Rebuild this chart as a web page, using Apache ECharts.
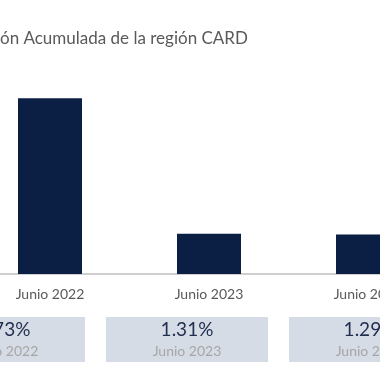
<!DOCTYPE html>
<html><head><meta charset="utf-8">
<script src="https://cdn.jsdelivr.net/npm/echarts@6/dist/echarts.min.js"></script>
<style>html,body{margin:0;padding:0;background:#fff}#c{width:380px;height:380px}</style>
</head><body><div id="c"></div>
<script>
const titleText = 'ón Acumulada de la región CARD';
const categories = ['Junio 2022', 'Junio 2023', 'Junio 2024'];
const values = [5.73, 1.31, 1.29];
const FONT = 'Lato';

const chart = echarts.init(document.getElementById('c'));
chart.setOption({
  animation: false,
  title: {
    text: titleText, left: 0, top: 30, padding: 0,
    textStyle: { fontFamily: FONT, fontSize: 17, fontWeight: 'normal', color: '#595959' }
  },
  grid: [
    { left: -29.5, width: 477, top: 90, height: 184, outerBoundsMode: 'none', containLabel: false },
    { left: -87.5, width: 549, top: 317, height: 45, outerBoundsMode: 'none', containLabel: false }
  ],
  xAxis: [
    { type: 'category', gridIndex: 0, data: categories,
      axisLine: { lineStyle: { color: '#bfbfbf', width: 1.5 } },
      axisTick: { show: false },
      axisLabel: { margin: 13, fontFamily: FONT, fontSize: 14, color: '#595959' } },
    { type: 'category', gridIndex: 1, data: categories, show: false }
  ],
  yAxis: [
    { type: 'value', gridIndex: 0, min: 0, max: 6, show: false },
    { type: 'value', gridIndex: 1, min: 0, max: 1, show: false }
  ],
  series: [
    { type: 'bar', xAxisIndex: 0, yAxisIndex: 0, data: values, barWidth: 64,
      itemStyle: { color: '#0b1f45' } },
    { type: 'custom', xAxisIndex: 1, yAxisIndex: 1,
      data: values.map((v, i) => [i, v]),
      renderItem: function (params, api) {
        const i = api.value(0);
        const bottom = api.coord([i, 0]);
        const top = api.coord([i, 1]);
        const cx = bottom[0];
        const w = 162;
        const h = bottom[1] - top[1];
        return {
          type: 'group',
          children: [
            { type: 'rect', shape: { x: cx - w / 2, y: top[1], width: w, height: h },
              style: { fill: '#d6dce5' } },
            { type: 'text', x: cx, y: top[1] + 13,
              style: { text: values[i].toFixed(2) + '%', align: 'center', verticalAlign: 'middle',
                       font: '19px ' + FONT, fill: '#1f2d4e' } },
            { type: 'text', x: cx, y: top[1] + 34,
              style: { text: categories[i], align: 'center', verticalAlign: 'middle',
                       font: '14px ' + FONT, fill: '#a6a6a6' } }
          ]
        };
      }
    }
  ]
});
</script></body></html>
